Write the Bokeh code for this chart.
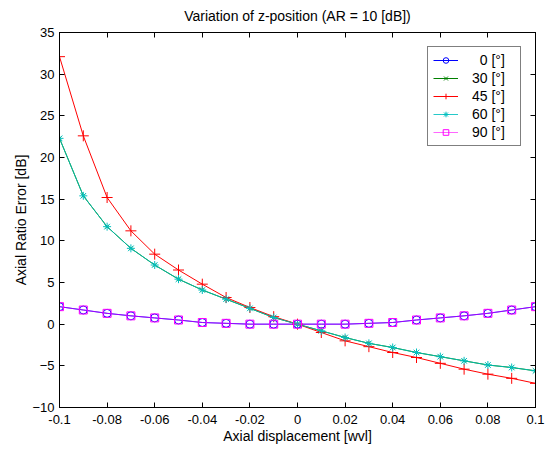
from bokeh.plotting import figure
from bokeh.models import LinearAxis, FixedTicker, Legend, LegendItem, Range1d
from bokeh.embed import file_html
from bokeh.resources import INLINE

# ---- data ----
x = [-0.10, -0.09, -0.08, -0.07, -0.06, -0.05, -0.04, -0.03, -0.02, -0.01, 0.0,
     0.01, 0.02, 0.03, 0.04, 0.05, 0.06, 0.07, 0.08, 0.09, 0.10]
ar_0 = [2.1, 1.7, 1.3, 1.0, 0.75, 0.5, 0.2, 0.1, 0.0, 0.0, 0.0,
        0.0, 0.0, 0.1, 0.2, 0.5, 0.75, 1.0, 1.3, 1.7, 2.1]
ar_30 = [22.3, 15.4, 11.7, 9.1, 7.1, 5.4, 4.1, 3.0, 1.9, 0.8, 0.0,
         -0.8, -1.6, -2.3, -2.8, -3.4, -3.9, -4.4, -4.9, -5.2, -5.6]
ar_45 = [32.1, 22.6, 15.2, 11.2, 8.4, 6.5, 4.8, 3.2, 2.0, 0.9, 0.0,
         -1.0, -2.0, -2.7, -3.4, -4.0, -4.7, -5.4, -6.0, -6.5, -7.1]
ar_60 = [22.3, 15.4, 11.7, 9.1, 7.1, 5.4, 4.1, 3.0, 1.9, 0.8, 0.0,
         -0.8, -1.6, -2.3, -2.8, -3.4, -3.9, -4.4, -4.9, -5.2, -5.6]
ar_90 = [2.1, 1.7, 1.3, 1.0, 0.75, 0.5, 0.2, 0.1, 0.0, 0.0, 0.0,
         0.0, 0.0, 0.1, 0.2, 0.5, 0.75, 1.0, 1.3, 1.7, 2.1]
series_labels = ["\u20070 [°]", "30 [°]", "45 [°]", "60 [°]", "90 [°]"]
x_ticks = [-0.1, -0.08, -0.06, -0.04, -0.02, 0.0, 0.02, 0.04, 0.06, 0.08, 0.1]
x_tick_labels = ["-0.1", "-0.08", "-0.06", "-0.04", "-0.02", "0",
                 "0.02", "0.04", "0.06", "0.08", "0.1"]
y_ticks = [-10, -5, 0, 5, 10, 15, 20, 25, 30, 35]

FONT = "Liberation Sans"

p = figure(width=547, height=451, output_backend="svg", toolbar_location=None,
           x_range=Range1d(-0.1, 0.1), y_range=Range1d(-10, 35),
           min_border_left=59, min_border_right=12, min_border_top=32,
           min_border_bottom=44, background_fill_color="white",
           border_fill_color="white")
p.title.text = "Variation of z-position (AR = 10 [dB])"
p.title.align = "center"
p.title.vertical_align = "top"
p.title.text_font = FONT
p.title.text_font_size = "14px"
p.title.text_font_style = "normal"
p.title.text_color = "black"
p.title.standoff = 14
p.grid.visible = False
p.outline_line_color = "black"
p.outline_line_width = 1
p.outline_line_alpha = 1

xt = FixedTicker(ticks=x_ticks)
yt = FixedTicker(ticks=y_ticks)
for ax in p.xaxis:
    ax.ticker = xt
    ax.major_label_overrides = dict(zip(x_ticks, x_tick_labels))
    ax.axis_label = "Axial displacement [wvl]"
    ax.major_label_standoff = 7
    ax.axis_label_standoff = 1
for ax in p.yaxis:
    ax.ticker = yt
    ax.axis_label = "Axial Ratio Error [dB]"
    ax.major_label_standoff = 5
    ax.axis_label_standoff = 0
for ax in p.xaxis + p.yaxis:
    ax.major_tick_in = 5
    ax.major_tick_out = 0
    ax.minor_tick_line_color = None
    ax.major_label_text_font = FONT
    ax.major_label_text_font_size = "13px"
    ax.major_label_text_color = "black"
    ax.axis_label_text_font = FONT
    ax.axis_label_text_font_size = "14px"
    ax.axis_label_text_font_style = "normal"
    ax.axis_label_text_color = "black"
    ax.axis_line_color = "black"
    ax.major_tick_line_color = "black"

for loc, tk in (("above", xt), ("right", yt)):
    ax2 = LinearAxis(ticker=tk, major_tick_in=5, major_tick_out=0,
                     minor_tick_line_color=None, major_label_text_font_size="0px",
                     major_label_text_color=None, major_label_standoff=0,
                     axis_line_color="black", major_tick_line_color="black")
    p.add_layout(ax2, loc)

specs = [
    (ar_0, "#0000FF", "circle", 8, 1.0),
    (ar_30, "#008000", "x", 5, 1.0),
    (ar_45, "#FF0000", "cross", 11, 1.0),
    (ar_60, "#00BFBF", "asterisk", 8, 0.85),
    (ar_90, "#FF00FF", "square", 8, 0.6),
]
items = []
for (ys, col, mk, sz, la), lab in zip(specs, series_labels):
    r1 = p.line(x, ys, line_color=col, line_width=1, line_alpha=la)
    r2 = p.scatter(x, ys, marker=mk, size=sz, line_color=col, fill_color=None,
                   line_width=1)
    items.append(LegendItem(label=lab, renderers=[r1, r2]))

leg = Legend(items=items, location="top_right", margin=14, padding=5,
             spacing=2, label_height=14, glyph_height=14, glyph_width=25,
             label_standoff=14, label_width=43, label_text_font=FONT,
             label_text_font_size="14px", label_text_color="black",
             border_line_color="black", border_line_width=1,
             background_fill_alpha=1)
p.add_layout(leg, "center")

open("out.html", "w").write(file_html(p, INLINE))
